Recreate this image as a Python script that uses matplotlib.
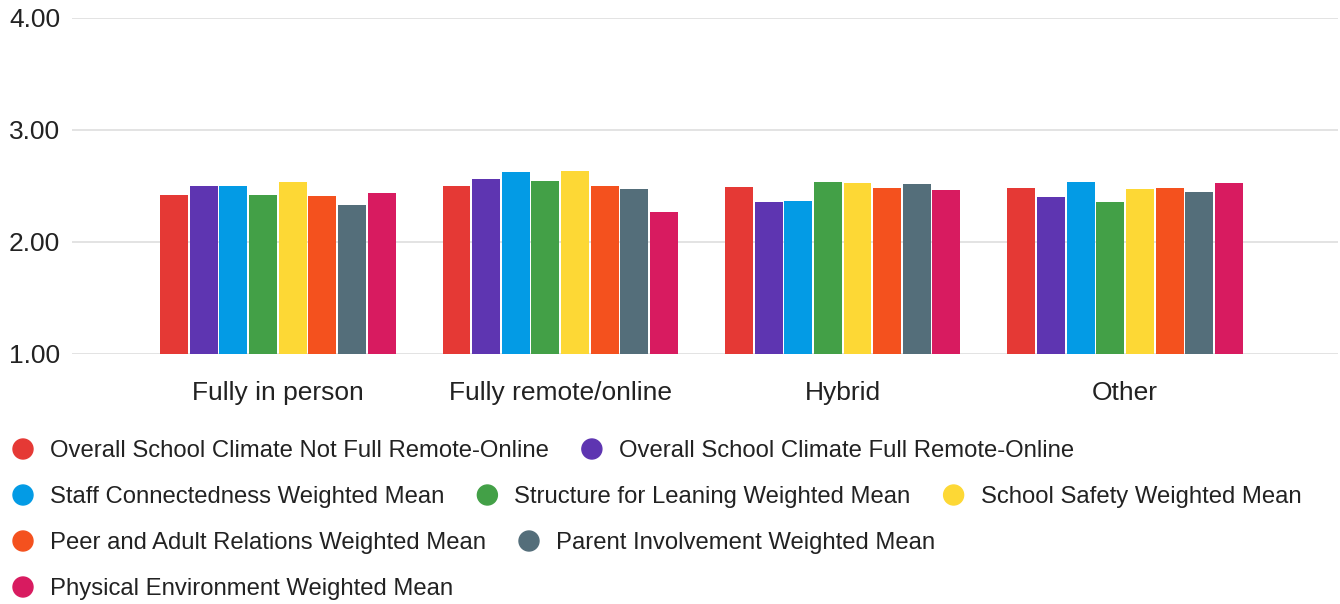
import matplotlib
matplotlib.use("Agg")
import matplotlib.pyplot as plt
from matplotlib.patches import Ellipse
import numpy as np

categories = ["Fully in person", "Fully remote/online", "Hybrid", "Other"]
series_names = [
    "Overall School Climate Not Full Remote-Online",
    "Overall School Climate Full Remote-Online",
    "Staff Connectedness Weighted Mean",
    "Structure for Leaning Weighted Mean",
    "School Safety Weighted Mean",
    "Peer and Adult Relations Weighted Mean",
    "Parent Involvement Weighted Mean",
    "Physical Environment Weighted Mean",
]
colors = ["#E53935", "#5E35B1", "#039BE5", "#43A047", "#FDD835", "#F4511E", "#546E7A", "#D81B60"]

overall_not_remote = [2.42, 2.50, 2.49, 2.48]
overall_remote = [2.50, 2.56, 2.35, 2.40]
staff_connect = [2.50, 2.62, 2.36, 2.53]
structure = [2.42, 2.54, 2.53, 2.35]
safety = [2.53, 2.63, 2.52, 2.47]
peer_adult = [2.41, 2.50, 2.48, 2.48]
parent = [2.33, 2.47, 2.51, 2.44]
physical = [2.43, 2.26, 2.46, 2.52]
series_values = [overall_not_remote, overall_remote, staff_connect, structure,
                 safety, peer_adult, parent, physical]

yticks = [1.0, 2.0, 3.0, 4.0]
ytick_labels = ["1.00", "2.00", "3.00", "4.00"]

plt.rcParams['font.family'] = ['Liberation Sans', 'DejaVu Sans']
TEXT = "#222222"
FS_LEG = 17.2
FS_TICK = 19

W, H = 1340, 604
fig = plt.figure(figsize=(W / 100, H / 100), dpi=100)
ax = fig.add_axes([72 / W, (H - 353.5) / H, (1338 - 72) / W, (353.5 - 17.7) / H])

n = len(series_names)
pitch = 0.105
bw = 0.099
x = np.arange(len(categories))
for i, (name, vals, c) in enumerate(zip(series_names, series_values, colors)):
    off = (i - (n - 1) / 2) * pitch
    ax.bar(x + off, np.array(vals) - 1.0, bottom=1.0, width=bw, color=c, zorder=3,
           linewidth=0)

ax.set_ylim(1.0, 4.0)
ax.set_xlim(-0.729, 3.754)
ax.set_yticks(yticks)
ax.set_yticklabels(ytick_labels)
ax.set_xticks(x)
ax.set_xticklabels(categories)
ax.tick_params(axis='both', length=0, labelsize=FS_TICK, labelcolor=TEXT)
ax.tick_params(axis='y', pad=8.5)
ax.tick_params(axis='x', pad=20)
for lbl in ax.get_yticklabels():
    lbl.set_horizontalalignment('right')
ax.grid(axis='y', color="#e0e0e0", linewidth=1.3, zorder=0)
for s in ax.spines.values():
    s.set_visible(False)
ax.set_facecolor("white")

# legend with flowing layout
fig.canvas.draw()
renderer = fig.canvas.get_renderer()
row_y = [449, 495, 541, 587]
x0 = 23
marker_to_text = 27
gap_after = 43
max_x = W - 20
cur_x = x0
row = 0
for name, c in zip(series_names, colors):
    t = fig.text(0, 0, name, fontsize=FS_LEG, color=TEXT)
    wtxt = t.get_window_extent(renderer).width
    t.remove()
    end = cur_x + marker_to_text + wtxt
    if cur_x != x0 and end > max_x:
        row += 1
        cur_x = x0
        end = cur_x + marker_to_text + wtxt
    yy = row_y[row]
    fig.patches.append(Ellipse((cur_x / W, (H - yy) / H), 20 / W, 20 / H,
                               transform=fig.transFigure, color=c, figure=fig))
    fig.text((cur_x + marker_to_text) / W, (H - yy - 2) / H, name, fontsize=FS_LEG,
             color=TEXT, va='center', ha='left')
    cur_x = end + gap_after

fig.savefig("out.png", dpi=100, facecolor="white")
